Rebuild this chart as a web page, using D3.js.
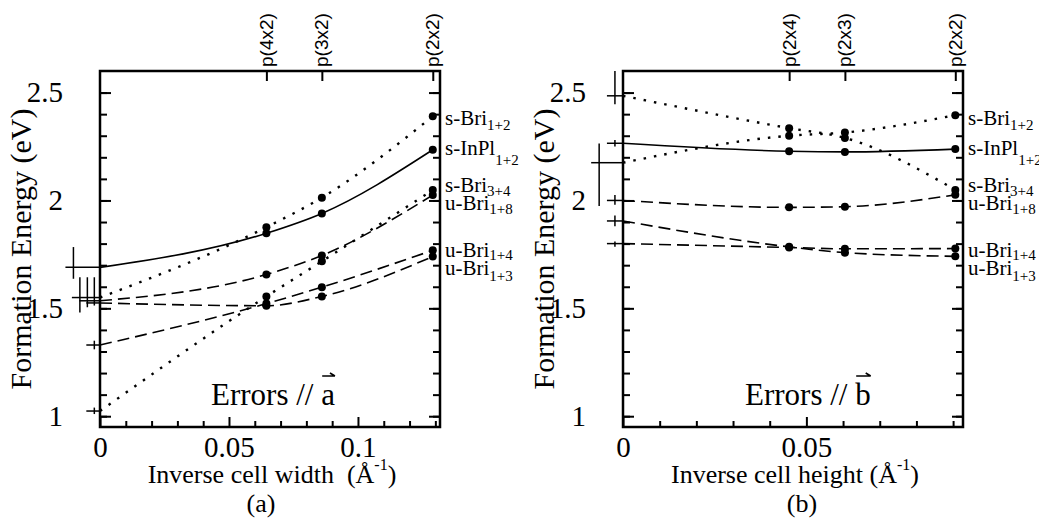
<!DOCTYPE html>
<html>
<head>
<meta charset="utf-8">
<script src="https://cdnjs.cloudflare.com/ajax/libs/d3/7.8.5/d3.min.js"></script>
<style>
body { margin: 0; background: #fff; }
svg { display: block; }
text { font-family: "Liberation Serif", "Times New Roman", serif; fill: #000; white-space: pre; }
.axis line { stroke: #000; stroke-width: 2; }
.axis .domain { display: none; }
.axis text { font-size: 29px; font-family: "Liberation Serif", serif; }
.cell text { font-family: "Liberation Sans", Arial, sans-serif; font-size: 19px; }
.fit { fill: none; stroke: #000; stroke-width: 1.6; }
.fit.dotted { stroke-dasharray: 2.5 8; stroke-width: 2.4; }
.fit.dashed { stroke-dasharray: 12 6; }
.cross { stroke: #000; stroke-width: 1.5; }
.frame { fill: none; stroke: #000; stroke-width: 2.5; }
</style>
</head>
<body>
<svg class="chart"></svg>
<script>
// series shared by both panels
var labelMain = ["s-Bri", "s-InPl", "s-Bri", "u-Bri", "u-Bri", "u-Bri"];
var labelSub = ["1+2", "1+2", "3+4", "1+8", "1+4", "1+3"];
var lineStyle = ["dotted", "solid", "dotted", "dashed", "dashed", "dashed"];
var labelEnergy = [2.382, 2.243, 2.073, 1.988, 1.772, 1.687];
var subShift = [5, 10, 4, 4, 3, 6];

var yMajor = [1, 1.5, 2, 2.5];
var yMinor = [1, 1.1, 1.2, 1.3, 1.4, 1.5, 1.6, 1.7, 1.8, 1.9, 2, 2.1, 2.2, 2.3, 2.4, 2.5];

// (a) errors along a
var cellsA = ["p(4x2)", "p(3x2)", "p(2x2)"];
var invWidthA = [0.0645, 0.086, 0.129];
var sBri12A = [1.876, 2.013, 2.39];
var sInPl12A = [1.848, 1.94, 2.235];
var sBri34A = [1.555, 1.718, 2.048];
var uBri18A = [1.657, 1.745, 2.025];
var uBri14A = [1.522, 1.598, 1.769];
var uBri13A = [1.512, 1.555, 1.74];
var limitA = [1.55, 1.69, 1.024, 1.535, 1.33, 1.525];
var errLowA = [1.481, 1.637, 1.01, 1.505, 1.31, 1.513];
var errHighA = [1.644, 1.784, 1.04, 1.644, 1.35, 1.644];
var errXA = [-0.0078, -0.0103, -0.0022, -0.0049, -0.0022, -0.0022];
var xMajorA = [0, 0.05, 0.1];
var xMinorA = [0.01, 0.02, 0.03, 0.04, 0.06, 0.07, 0.08, 0.09, 0.11, 0.12, 0.13];

// (b) errors along b
var cellsB = ["p(2x4)", "p(2x3)", "p(2x2)"];
var invHeightB = [0.0453, 0.0605, 0.0906];
var sBri12B = [2.30, 2.315, 2.395];
var sInPl12B = [2.228, 2.225, 2.238];
var sBri34B = [2.335, 2.29, 2.049];
var uBri18B = [1.968, 1.971, 2.026];
var uBri14B = [1.782, 1.776, 1.777];
var uBri13B = [1.785, 1.758, 1.741];
var limitB = [2.175, 2.265, 2.485, 2.0, 1.80, 1.905];
var errLowB = [1.974, 2.25, 2.446, 1.98, 1.785, 1.88];
var errHighB = [2.264, 2.28, 2.6, 2.025, 1.81, 1.93];
var errXB = [-0.0065, -0.0022, -0.0022, -0.0022, -0.0022, -0.0022];
var xMajorB = [0, 0.05];
var xMinorB = [0.01, 0.02, 0.03, 0.04, 0.06, 0.07, 0.08, 0.09];

var width = 1039, height = 518,
plotTop = 71, plotBottom = 427;

var svg = d3.select(".chart")
  .attr("width", width)
  .attr("height", height);

var y = d3.scaleLinear()
  .domain([0.95, 2.6])
  .range([plotBottom, plotTop]);

var panels = [
  { left: 100, right: 440, xMax: 0.1318, cells: cellsA, cellX: invWidthA,
    energies: [sBri12A, sInPl12A, sBri34A, uBri18A, uBri14A, uBri13A],
    limits: limitA, errLow: errLowA, errHigh: errHighA, errX: errXA,
    xMajor: xMajorA, xMinor: xMinorA,
    xTitle: "Inverse cell width  (\u00C5", titleX: 272, tag: "(a)", tagX: 261,
    vec: "a", errorsX: 211 },
  { left: 623, right: 963, xMax: 0.0927, cells: cellsB, cellX: invHeightB,
    energies: [sBri12B, sInPl12B, sBri34B, uBri18B, uBri14B, uBri13B],
    limits: limitB, errLow: errLowB, errHigh: errHighB, errX: errXB,
    xMajor: xMajorB, xMinor: xMinorB,
    xTitle: "Inverse cell height (\u00C5", titleX: 795, tag: "(b)", tagX: 802,
    vec: "b", errorsX: 745 }
];

panels.forEach(drawPanel);

function drawPanel(p) {
  var x = d3.scaleLinear()
    .domain([0, p.xMax])
    .range([p.left, p.right]);
  var g = svg.append("g");

  // ticks, all pointing into the frame
  g.append("g").attr("class", "axis")
    .attr("transform", "translate(" + p.left + ",0)")
    .call(d3.axisLeft(y).tickValues(yMinor).tickSize(-7).tickFormat(""));
  g.append("g").attr("class", "axis")
    .attr("transform", "translate(" + p.left + ",0)")
    .call(d3.axisLeft(y).tickValues(yMajor).tickSize(-11).tickPadding(37).tickFormat(d3.format("")));
  g.append("g").attr("class", "axis")
    .attr("transform", "translate(" + p.right + ",0)")
    .call(d3.axisRight(y).tickValues(yMinor).tickSize(-7).tickFormat(""));
  g.append("g").attr("class", "axis")
    .attr("transform", "translate(" + p.right + ",0)")
    .call(d3.axisRight(y).tickValues(yMajor).tickSize(-11).tickFormat(""));
  g.append("g").attr("class", "axis")
    .attr("transform", "translate(0," + plotBottom + ")")
    .call(d3.axisBottom(x).tickValues(p.xMinor).tickSize(-6).tickFormat(""));
  g.append("g").attr("class", "axis")
    .attr("transform", "translate(0," + plotBottom + ")")
    .call(d3.axisBottom(x).tickValues(p.xMajor).tickSize(-10).tickPadding(9).tickFormat(d3.format("")));

  var top = g.append("g").attr("class", "axis cell")
    .attr("transform", "translate(0," + plotTop + ")")
    .call(d3.axisTop(x).tickValues(p.cellX).tickSize(-10)
      .tickFormat(function(d, i) { return p.cells[i]; }));
  top.selectAll("text")
    .attr("transform", "rotate(-90)")
    .attr("x", 4)
    .attr("y", 0)
    .attr("dy", "0.32em")
    .style("text-anchor", "start");

  g.append("rect")
    .attr("class", "frame")
    .attr("x", p.left)
    .attr("y", plotTop)
    .attr("width", p.right - p.left)
    .attr("height", plotBottom - plotTop);

  var line = d3.line()
    .curve(d3.curveMonotoneX)
    .x(function(d) { return x(d.x); })
    .y(function(d) { return y(d.e); });

  p.energies.forEach(function(vals, i) {
    var pts = vals.map(function(v, j) { return { x: p.cellX[j], e: v }; });
    g.append("path")
      .datum([{ x: 0, e: p.limits[i] }].concat(pts))
      .attr("class", "fit " + lineStyle[i])
      .attr("d", line);

    g.selectAll(null)
      .data(pts)
      .enter().append("circle")
        .attr("r", 4)
        .attr("cx", function(d) { return x(d.x); })
        .attr("cy", function(d) { return y(d.e); });

    // extrapolated value with its error bar
    var cx = x(p.errX[i]);
    g.append("line")
      .attr("class", "cross")
      .attr("x1", cx).attr("x2", cx)
      .attr("y1", y(p.errLow[i])).attr("y2", y(p.errHigh[i]));
    g.append("line")
      .attr("class", "cross")
      .attr("x1", cx - 8).attr("x2", x(0))
      .attr("y1", y(p.limits[i])).attr("y2", y(p.limits[i]));

    var lab = g.append("text")
      .attr("x", p.right + 5)
      .attr("y", y(labelEnergy[i]) + 7)
      .style("font-size", "21px")
      .text(labelMain[i]);
    lab.append("tspan")
      .attr("dy", subShift[i])
      .style("font-size", "15px")
      .text(labelSub[i]);
  });

  // axis titles
  g.append("text")
    .attr("transform", "translate(" + (p.left - 69) + "," + ((plotTop + plotBottom) / 2) + ") rotate(-90)")
    .style("text-anchor", "middle")
    .style("font-size", "30px")
    .text("Formation Energy (eV)");

  var xt = g.append("text")
    .attr("x", p.titleX)
    .attr("y", 483)
    .style("text-anchor", "middle")
    .style("font-size", "26px")
    .text(p.xTitle);
  xt.append("tspan").attr("dy", -13).style("font-size", "16px").text("-1");
  xt.append("tspan").attr("dy", 13).text(")");

  g.append("text")
    .attr("x", p.tagX)
    .attr("y", 512)
    .style("text-anchor", "middle")
    .style("font-size", "26px")
    .text(p.tag);

  var errText = g.append("text")
    .attr("x", p.errorsX)
    .attr("y", 405)
    .style("font-size", "31px")
    .text("Errors // " + p.vec);
  var node = errText.node(), n = node.getNumberOfChars();
  var sx = node.getStartPositionOfChar(n - 1).x,
  ex = node.getEndPositionOfChar(n - 1).x,
  ay = 376;
  g.append("path")
    .attr("d", "M" + (sx + 1) + "," + ay + "L" + ex + "," + ay +
      "M" + (ex - 5) + "," + (ay - 3) + "L" + ex + "," + ay)
    .attr("fill", "none")
    .attr("stroke", "#000")
    .attr("stroke-width", 1.6);
}
</script>
</body>
</html>
